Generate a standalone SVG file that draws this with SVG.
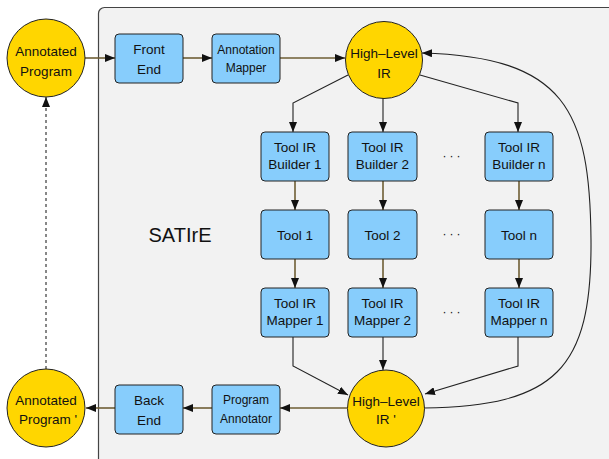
<svg xmlns="http://www.w3.org/2000/svg" width="609" height="459" viewBox="0 0 609 459">
<defs>
<style>
.box{fill:#87cdfc;stroke:#222;stroke-width:1}
.circ{fill:#ffd600;stroke:#222;stroke-width:1}
text{font-family:"Liberation Sans",Arial,sans-serif;font-size:13.5px;fill:#111;text-anchor:middle}
.sm{font-size:12px}
.ol{fill:none;stroke:#6e5e34;stroke-width:1.6}
.bk{fill:none;stroke:#222;stroke-width:1.1}
.dots{font-size:12px;letter-spacing:3px}
</style>
<marker id="ah" viewBox="0 0 10 8" refX="10" refY="4" markerWidth="10" markerHeight="8" markerUnits="userSpaceOnUse" orient="auto">
<path d="M0,0 L10,4 L0,8 Z" fill="#111"/>
</marker>
</defs>
<rect x="98.5" y="7.5" width="530" height="480" rx="6" fill="#f2f2f2" stroke="#444" stroke-width="1.2"/>
<text x="180" y="242" style="font-size:20px">SATIrE</text>
<g id="connectors">
<path class="ol" d="M85,58 L115,58" marker-end="url(#ah)"/>
<path class="ol" d="M183,58 L212,58" marker-end="url(#ah)"/>
<path class="ol" d="M280,58 L345,58" marker-end="url(#ah)"/>
<path class="bk" d="M348,75 L293,103 L293,132" marker-end="url(#ah)"/>
<path class="bk" d="M383,98 L383,132" marker-end="url(#ah)"/>
<path class="bk" d="M420,75 L518,103 L518,132" marker-end="url(#ah)"/>
<path class="ol" d="M295,181 L295,210" marker-end="url(#ah)"/>
<path class="ol" d="M383,181 L383,210" marker-end="url(#ah)"/>
<path class="ol" d="M519,181 L519,210" marker-end="url(#ah)"/>
<path class="ol" d="M295,259 L295,288" marker-end="url(#ah)"/>
<path class="ol" d="M383,259 L383,288" marker-end="url(#ah)"/>
<path class="ol" d="M519,259 L519,288" marker-end="url(#ah)"/>
<path class="bk" d="M293,337 L293,366 L348,395" marker-end="url(#ah)"/>
<path class="bk" d="M383,337 L383,370" marker-end="url(#ah)"/>
<path class="bk" d="M518,337 L518,366 L425,394" marker-end="url(#ah)"/>
<path class="bk" d="M424,408 C555,406 592,370 591,240 C590,110 565,57 422,53" marker-end="url(#ah)"/>
<path class="ol" d="M347,408 L280,408" marker-end="url(#ah)"/>
<path class="ol" d="M212,408 L183,408" marker-end="url(#ah)"/>
<path class="ol" d="M115,408 L86,408" marker-end="url(#ah)"/>
<path fill="none" stroke="#111" stroke-width="1" stroke-dasharray="3,3" d="M46,369 L46,97" marker-end="url(#ah)"/>
</g>
<g id="annotated-program">
<circle class="circ" cx="46" cy="58" r="39"/>
<text x="46" y="56">Annotated</text>
<text x="46" y="76">Program</text>
</g>
<g id="front-end">
<rect class="box" x="115" y="34" width="68" height="49" rx="4"/>
<text x="149" y="54">Front</text>
<text x="149" y="74">End</text>
</g>
<g id="annotation-mapper">
<rect class="box" x="212" y="34" width="68" height="49" rx="4"/>
<text class="sm" x="246" y="53.5">Annotation</text>
<text class="sm" x="246" y="72">Mapper</text>
</g>
<g id="high-level-ir">
<circle class="circ" cx="384" cy="60" r="38.5"/>
<text x="384" y="58">High–Level</text>
<text x="384" y="78">IR</text>
</g>
<g id="builder-1">
<rect class="box" x="261" y="132" width="68" height="49" rx="4"/>
<text x="295" y="152">Tool IR</text>
<text x="295" y="169">Builder 1</text>
</g>
<g id="builder-2">
<rect class="box" x="348" y="132" width="69" height="49" rx="4"/>
<text x="382.5" y="152">Tool IR</text>
<text x="382.5" y="169">Builder 2</text>
</g>
<g id="builder-n">
<rect class="box" x="485" y="132" width="68" height="49" rx="4"/>
<text x="519" y="152">Tool IR</text>
<text x="519" y="169">Builder n</text>
</g>
<g id="tool-1">
<rect class="box" x="261" y="210" width="68" height="49" rx="4"/>
<text x="295" y="239.5">Tool 1</text>
</g>
<g id="tool-2">
<rect class="box" x="348" y="210" width="69" height="49" rx="4"/>
<text x="382.5" y="239.5">Tool 2</text>
</g>
<g id="tool-n">
<rect class="box" x="485" y="210" width="68" height="49" rx="4"/>
<text x="519" y="239.5">Tool n</text>
</g>
<g id="mapper-1">
<rect class="box" x="261" y="288" width="68" height="49" rx="4"/>
<text x="295" y="308">Tool IR</text>
<text x="295" y="325">Mapper 1</text>
</g>
<g id="mapper-2">
<rect class="box" x="348" y="288" width="69" height="49" rx="4"/>
<text x="382.5" y="308">Tool IR</text>
<text x="382.5" y="325">Mapper 2</text>
</g>
<g id="mapper-n">
<rect class="box" x="485" y="288" width="68" height="49" rx="4"/>
<text x="519" y="308">Tool IR</text>
<text x="519" y="325">Mapper n</text>
</g>
<g id="dots">
<text class="dots" x="453" y="160">···</text>
<text class="dots" x="453" y="238">···</text>
<text class="dots" x="453" y="316">···</text>
</g>
<g id="high-level-ir-prime">
<circle class="circ" cx="386" cy="408.5" r="38.5"/>
<text x="386" y="406">High–Level</text>
<text x="386" y="424">IR '</text>
</g>
<g id="program-annotator">
<rect class="box" x="212" y="385" width="68" height="49" rx="4"/>
<text class="sm" x="246" y="404">Program</text>
<text class="sm" x="246" y="423">Annotator</text>
</g>
<g id="back-end">
<rect class="box" x="115" y="385" width="68" height="49" rx="4"/>
<text x="149" y="405">Back</text>
<text x="149" y="425">End</text>
</g>
<g id="annotated-program-prime">
<circle class="circ" cx="46" cy="408" r="39"/>
<text x="46" y="405">Annotated</text>
<text x="48" y="424">Program '</text>
</g>
</svg>
